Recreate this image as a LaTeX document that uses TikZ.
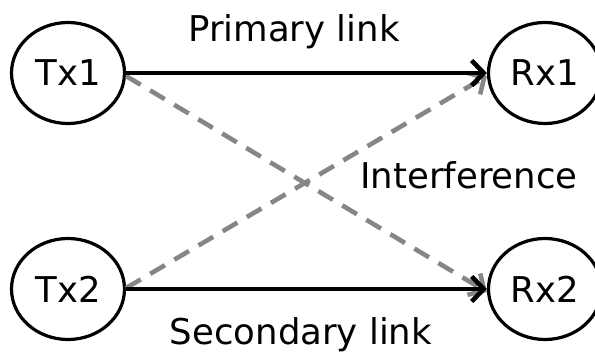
\documentclass[tikz,border=0pt]{standalone}
\usepackage{fontspec}
\setmainfont{DejaVu Sans}
\usetikzlibrary{shapes.geometric,arrows.meta}
\begin{document}
\begin{tikzpicture}[x=1pt,y=-1pt,
  station/.style={draw, ellipse, line width=3.2pt, minimum width=113pt, minimum height=101pt, inner sep=0pt, font=\fontsize{35.5}{42}\selectfont},
  label/.style={font=\fontsize{35.5}{42}\selectfont, inner sep=0pt},
  link/.style={line width=4.6pt, -{Straight Barb[length=12pt,width=25pt,line width=4.6pt]}},
  interf/.style={line width=4.6pt, color=gray!95, dash pattern=on 17pt off 11pt, -{Straight Barb[length=12pt,width=25pt,line width=4.6pt]}}]
  \useasboundingbox (0,0) rectangle (595,353);
  \node[station] (tx1) at (68,73) {Tx1};
  \node[station] (rx1) at (545,73) {Rx1};
  \node[station] (tx2) at (68,289) {Tx2};
  \node[station] (rx2) at (545,289) {Rx2};
  % interference paths
  \draw[interf] ([yshift=-3pt]tx1.east) -- ([yshift=-3pt]rx2.west);
  \draw[interf] ([yshift=1pt]tx2.east) -- ([yshift=-3pt]rx1.west);
  % direct links
  \draw[link] (tx1.east) -- (rx1.west);
  \draw[link] (tx2.east) -- (rx2.west);
  \node[label, anchor=base] (prim) at (294,42) {Primary link};
  \node[label, anchor=base] (intf) at (469,188) {Interference};
  \node[label, anchor=base] (sec) at (301,344) {Secondary link};
\end{tikzpicture}
\end{document}
